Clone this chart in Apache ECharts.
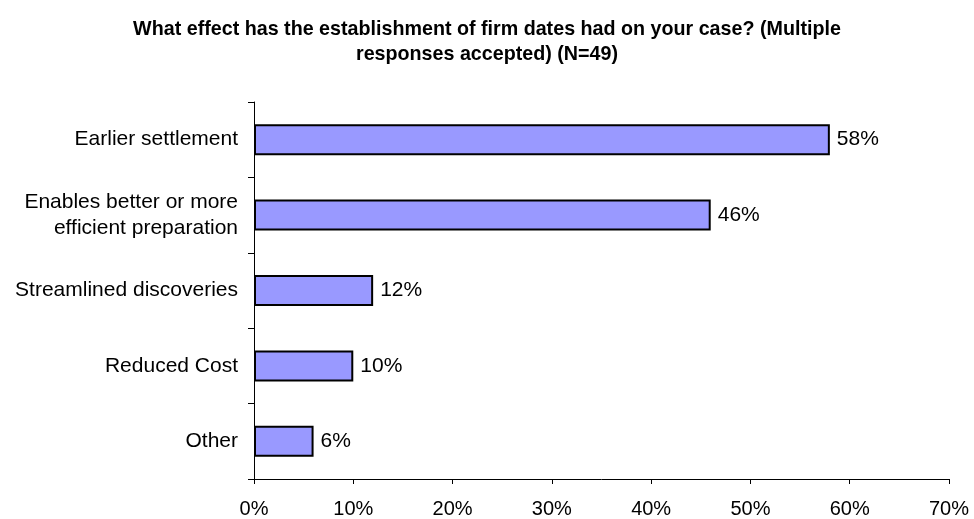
<!DOCTYPE html>
<html>
<head>
<meta charset="utf-8">
<style>
  html, body { margin: 0; padding: 0; background: #ffffff; }
  #chart { width: 974px; height: 519px; }
</style>
<script src="https://cdn.jsdelivr.net/npm/echarts@6/dist/echarts.min.js"></script>
</head>
<body>
<div id="chart"></div>
<script>
// Responses, listed bottom to top as drawn on the category axis
const categories = [
  'Other',
  'Reduced Cost',
  'Streamlined discoveries',
  'Enables better or more\nefficient preparation',
  'Earlier settlement'
];
const percentValues = [6, 10, 12, 46, 58];
const xTicks = [0, 10, 20, 30, 40, 50, 60, 70];

const titleText = 'What effect has the establishment of firm dates had on your case? (Multiple\nresponses accepted) (N=49)';
const fontFamily = '"Liberation Sans", Arial, Helvetica, sans-serif';

const chart = echarts.init(document.getElementById('chart'), null, { renderer: 'canvas' });

chart.setOption({
  backgroundColor: '#ffffff',
  animation: false,
  title: {
    text: titleText,
    left: 'center',
    top: 12,
    textStyle: {
      fontFamily: fontFamily,
      fontSize: 19.7,
      fontWeight: 'bold',
      color: '#000000',
      lineHeight: 25
    }
  },
  grid: {
    left: 254,
    right: 25,
    top: 102,
    bottom: 39,
    containLabel: false
  },
  xAxis: {
    type: 'value',
    min: xTicks[0],
    max: xTicks[xTicks.length - 1],
    interval: 10,
    axisLine: { show: true, lineStyle: { color: '#000000', width: 1 } },
    axisTick: { show: true, length: 5, lineStyle: { color: '#000000' } },
    splitLine: { show: false },
    axisLabel: {
      formatter: v => v + '%',
      fontFamily: fontFamily,
      fontSize: 20,
      color: '#000000',
      margin: 20
    }
  },
  yAxis: {
    type: 'category',
    data: categories,
    axisLine: { show: true, lineStyle: { color: '#000000', width: 1 } },
    axisTick: { show: true, length: 6, alignWithLabel: false, lineStyle: { color: '#000000' } },
    axisLabel: {
      fontFamily: fontFamily,
      fontSize: 21,
      color: '#000000',
      margin: 16,
      lineHeight: 26,
      align: 'right'
    }
  },
  series: [{
    type: 'bar',
    data: percentValues,
    barWidth: 31,
    itemStyle: {
      color: '#9999ff',
      borderColor: '#000000',
      borderWidth: 2
    },
    label: {
      show: true,
      position: 'right',
      distance: 7,
      formatter: p => p.value + '%',
      fontFamily: fontFamily,
      fontSize: 21,
      color: '#000000'
    }
  }]
});
</script>
</body>
</html>
